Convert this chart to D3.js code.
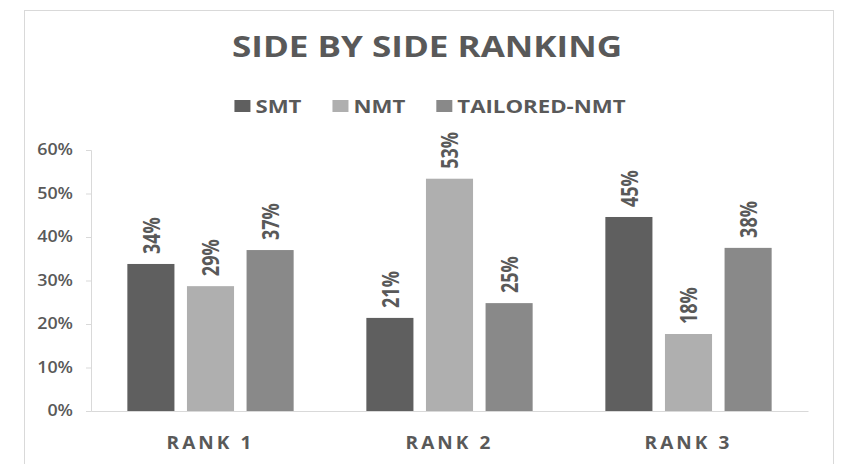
<!DOCTYPE html>
<html>
<head>
<meta charset="utf-8">
<script src="https://cdn.jsdelivr.net/npm/d3@7"></script>
<style>
  html, body { margin: 0; padding: 0; background: #ffffff; }
  svg { display: block; font-family: "Open Sans", "DejaVu Sans", sans-serif; }
</style>
</head>
<body>
<svg id="chart" width="851" height="464"></svg>
<script>
// ---- data ----
const title = "SIDE BY SIDE RANKING";
const categories = ["RANK 1", "RANK 2", "RANK 3"];
const seriesNames = ["SMT", "NMT", "TAILORED-NMT"];
const smtValues = [0.338, 0.214, 0.446];
const nmtValues = [0.287, 0.534, 0.177];
const tailoredValues = [0.37, 0.248, 0.375];
const yTickValues = [0, 0.1, 0.2, 0.3, 0.4, 0.5, 0.6];
const seriesColors = ["#5f5f5f", "#afafaf", "#898989"];

const seriesValues = [smtValues, nmtValues, tailoredValues];

// ---- layout ----
const svg = d3.select("#chart");
const plot = { left: 91, right: 808, top: 150, bottom: 411 };
const textColor = "#595959";
const gridColor = "#d9d9d9";

// helper: widen text horizontally (reference looks stretched)
function widen(sel, factor) {
  sel.each(function () {
    const w = this.getComputedTextLength();
    d3.select(this).attr("textLength", w * factor).attr("lengthAdjust", "spacingAndGlyphs");
  });
}

// chart border
svg.append("rect")
  .attr("x", 24.5).attr("y", 10.5)
  .attr("width", 809).attr("height", 470)
  .attr("fill", "#ffffff")
  .attr("stroke", gridColor).attr("stroke-width", 1);

// scales
const x0 = d3.scaleBand().domain(categories).range([plot.left, plot.right]).paddingInner(0).paddingOuter(0);
const x1 = d3.scaleBand().domain(seriesNames).range([0, x0.bandwidth()]).paddingInner(0.21).paddingOuter(0.61);
const y = d3.scaleLinear().domain([0, 0.6]).range([plot.bottom, plot.top]);
const color = d3.scaleOrdinal().domain(seriesNames).range(seriesColors);

// title
svg.append("text")
  .attr("x", 427).attr("y", 57)
  .attr("text-anchor", "middle")
  .attr("font-size", 28).attr("font-weight", 700)
  .attr("fill", textColor)
  .attr("textLength", 390).attr("lengthAdjust", "spacingAndGlyphs")
  .text(title);

// legend
const legend = svg.append("g");
let lx = 0;
seriesNames.forEach((name) => {
  const g = legend.append("g").attr("transform", `translate(${lx},0)`);
  g.append("rect").attr("x", 0).attr("y", 100).attr("width", 16).attr("height", 12).attr("fill", color(name));
  const tx = g.append("text").attr("x", 21).attr("y", 113)
    .attr("font-size", 18.5).attr("font-weight", 700).attr("fill", textColor).text(name);
  widen(tx, 1.2);
  const w = +tx.attr("textLength");
  lx += 21 + w + 31;
});
const legendWidth = lx - 31;
legend.attr("transform", `translate(${430 - legendWidth / 2},0)`);

// y axis
const yAxis = d3.axisLeft(y).tickValues(yTickValues).tickFormat(d3.format(".0%")).tickSize(5).tickPadding(13);
const yg = svg.append("g").attr("transform", `translate(${plot.left},0)`).call(yAxis);
yg.select(".domain").attr("stroke", gridColor);
yg.selectAll(".tick line").attr("stroke", gridColor);
yg.selectAll(".tick text")
  .attr("font-size", 15.5).attr("font-weight", 600).attr("fill", textColor)
  .attr("font-family", '"Open Sans", sans-serif');
widen(yg.selectAll(".tick text"), 1.15);

// x axis
const xAxis = d3.axisBottom(x0).tickSize(0).tickPadding(0);
const xg = svg.append("g").attr("transform", `translate(0,${plot.bottom})`).call(xAxis);
xg.select(".domain").attr("stroke", gridColor);
xg.selectAll(".tick text")
  .attr("y", 38).attr("dy", null)
  .attr("font-size", 18.5).attr("font-weight", 700).attr("fill", textColor)
  .attr("letter-spacing", 3)
  .attr("font-family", '"Open Sans", sans-serif')
  .attr("textLength", 88).attr("lengthAdjust", "spacingAndGlyphs");

// bars
const groups = svg.append("g").selectAll("g")
  .data(categories)
  .join("g")
  .attr("transform", d => `translate(${x0(d)},0)`);

const barData = (ci) => seriesNames.map((s, si) => ({ series: s, value: seriesValues[si][ci] }));

groups.each(function (cat, ci) {
  const g = d3.select(this);
  const data = barData(ci);
  g.selectAll("rect").data(data).join("rect")
    .attr("x", d => x1(d.series))
    .attr("y", d => y(d.value))
    .attr("width", x1.bandwidth())
    .attr("height", d => y(0) - y(d.value))
    .attr("fill", d => color(d.series));
  g.selectAll("text.lbl").data(data).join("text")
    .attr("class", "lbl")
    .attr("transform", d => `translate(${x1(d.series) + x1.bandwidth() / 2},${y(d.value) - 10}) scale(1.25,1) rotate(-90)`)
    .attr("text-anchor", "start")
    .attr("dominant-baseline", "central")
    .attr("font-size", 18).attr("font-weight", 700)
    .attr("fill", "#595959")
    .text(d => d3.format(".0%")(d.value));
});
</script>
</body>
</html>
